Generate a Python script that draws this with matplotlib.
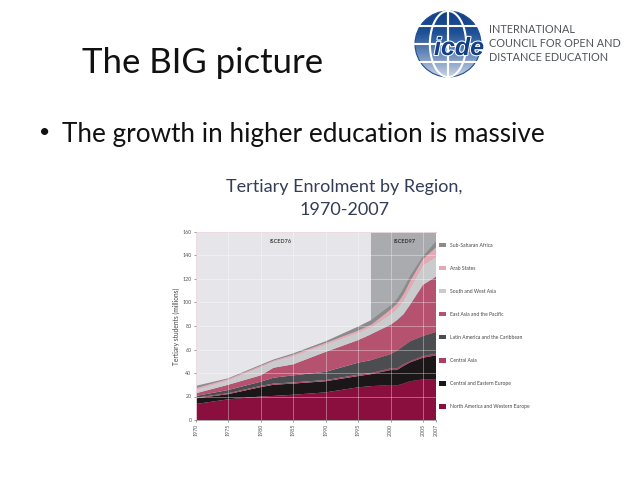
#!/usr/bin/env python3
"""Slide with the tertiary enrolment stacked area chart and the ICDE logo."""
import numpy as np
import matplotlib
matplotlib.use("Agg")
import matplotlib.pyplot as plt
import matplotlib.patheffects as pe
from matplotlib.patches import Circle

plt.rcParams["font.family"] = ["Lato", "DejaVu Sans"]

W, H = 638, 479

years = [1970, 1975, 1980, 1982, 1985, 1990, 1995, 1997, 2000, 2001, 2002, 2003, 2005, 2007]
# enrolment per region, millions
north_america = [13.6, 17.6, 20, 20.5, 21.5, 23.5, 27.8, 28.8, 29.8, 29.5, 31, 33, 34.6, 34.8]
central_east_europe = [4.8, 4.4, 8, 9.5, 9.5, 9.5, 9.6, 10.2, 12.7, 13, 15, 16, 18.4, 20.2]
central_asia = [0.6, 0.8, 1, 1, 1, 1, 1.1, 1, 1.5, 1.5, 1.5, 1, 1.5, 1.5]
latin_america = [1.4, 2.7, 3.6, 5, 6, 7, 10.3, 11, 12, 15, 15.5, 17, 17, 18.5]
east_asia = [2.3, 4.5, 5.4, 8.5, 9.4, 17, 19.2, 22, 25, 26, 27, 31, 43.5, 47]
south_west_asia = [2.8, 3.5, 6.8, 5.1, 6.6, 6, 6, 6, 9, 10, 12, 14, 17, 17]
arab_states = [1.5, 1.3, 1.2, 0.9, 1.5, 1.5, 2, 2, 4, 4, 5, 6, 5, 8]
sub_saharan = [2, 0.7, 1, 1, 1.2, 1.5, 3.5, 4, 3.5, 4, 5, 4.5, 2.5, 5]

region_names = ["North America and Western Europe", "Central and Eastern Europe", "Central Asia",
                "Latin America and the Caribbean", "East Asia and the Pacific",
                "South and West Asia", "Arab States", "Sub-Saharan Africa"]
region_colors = ["#8a0f3f", "#1b1718", "#a8405f", "#4c4d50", "#b5526f",
                 "#c9cbcd", "#e4a9b5", "#8b8b8e"]
x_ticks = [1970, 1975, 1980, 1985, 1990, 1995, 2000, 2005, 2007]
y_ticks = [0, 20, 40, 60, 80, 100, 120, 140, 160]
isced_change = 1997

fig = plt.figure(figsize=(W / 100, H / 100), dpi=100, facecolor="white")


def fx(px):
    return px / W


def fy(py):
    return 1 - py / H


# slide text
fig.text(fx(82), fy(73), "The BIG picture", fontsize=25, color="#111111", va="baseline")
fig.text(fx(39), fy(138), "•", fontsize=14, color="#111111", va="baseline")
fig.text(fx(62), fy(142), "The growth in higher education is massive", fontsize=18.8,
         color="#111111", va="baseline")
fig.text(fx(344), fy(192), "Tertiary Enrolment by Region,", fontsize=13, color="#333d58",
         ha="center", va="baseline")
fig.text(fx(345), fy(215), "1970-2007", fontsize=13, color="#333d58", ha="center", va="baseline")

# chart
ax = fig.add_axes([fx(195.7), fy(420), 240.3 / W, 188 / H])
ax.set_facecolor("#e6e6ea")
ax.axvspan(isced_change, 2007, color="#a9abae", lw=0)
ax.stackplot(years, north_america, central_east_europe, central_asia, latin_america, east_asia,
             south_west_asia, arab_states, sub_saharan, colors=region_colors,
             labels=region_names, lw=0)
ax.set_xlim(1970, 2007)
ax.set_ylim(0, 160)
ax.set_xticks(x_ticks)
ax.set_yticks(y_ticks)
ax.set_xticklabels(x_ticks, rotation=90)
ax.tick_params(labelsize=3.8, colors="#555555", length=1.5, width=0.4, pad=1.5)
ax.grid(color="white", alpha=0.35, lw=0.7)
ax.set_axisbelow(False)
for side, sp in ax.spines.items():
    sp.set_color("#e3c3cc")
    sp.set_linewidth(0.6)
ax.spines["right"].set_visible(False)
ax.spines["bottom"].set_color("#999999")
ax.set_ylabel("Tertiary students (millions)", fontsize=4.8, color="#444444", labelpad=1.5)
ax.text(1983, 152, "ISCED76", fontsize=4, fontweight="bold", color="#444444", ha="center", va="center")
ax.text(2002.2, 152, "ISCED97", fontsize=4, fontweight="bold", color="#333333", ha="center", va="center")

handles, labels = ax.get_legend_handles_labels()
ax.legend(handles[::-1], labels[::-1], loc="upper left", bbox_to_anchor=(1.0137, 0.944), frameon=False,
          fontsize=3.6, labelcolor="#444444", handlelength=1.3, handleheight=1,
          handletextpad=0.85, labelspacing=3.62, borderpad=0, borderaxespad=0)

# logo: globe with a blue gradient, white grid and the icde lettering
logo = fig.add_axes([fx(414), fy(78), 68 / W, 68 / H])
logo.set_xlim(-1.03, 1.03)
logo.set_ylim(-1.03, 1.03)
logo.axis("off")
grad = np.linspace(0, 1, 128).reshape(-1, 1)
cmap = matplotlib.colors.LinearSegmentedColormap.from_list(
    "globe", ["#123f86", "#1d5095", "#6d8dbb", "#c6d2e6"])
img = logo.imshow(grad, cmap=cmap, extent=[-1, 1, -1, 1], aspect="auto", origin="upper")
img.set_clip_path(Circle((0, 0), 1, transform=logo.transData))
grid_kw = dict(color="white", lw=1.5, clip_on=True)
t = np.linspace(-np.pi / 2, np.pi / 2, 60)
for k in (0.0, 0.55):
    logo.plot(k * np.cos(t), np.sin(t), **grid_kw)
    logo.plot(-k * np.cos(t), np.sin(t), **grid_kw)
for lat in (-0.55, 0.0, 0.55):
    half = np.sqrt(1 - lat ** 2)
    logo.plot([-half, half], [lat, lat], **grid_kw)
logo.add_patch(Circle((0, 0), 1, fill=False, ec="#1d4f93", lw=0.8))
fig.text(fx(459), fy(55), "icde", fontsize=18, fontstyle="italic", fontweight="bold", color="#123f86",
         ha="center", va="baseline", family=["Liberation Sans"],
         path_effects=[pe.withStroke(linewidth=1.5, foreground="white")])

for y, line in zip((33, 47, 61), ("INTERNATIONAL", "COUNCIL FOR OPEN AND", "DISTANCE EDUCATION")):
    fig.text(fx(489), fy(y), line, fontsize=7.8, color="#50555b", va="baseline")

fig.savefig("out.png", dpi=100)
